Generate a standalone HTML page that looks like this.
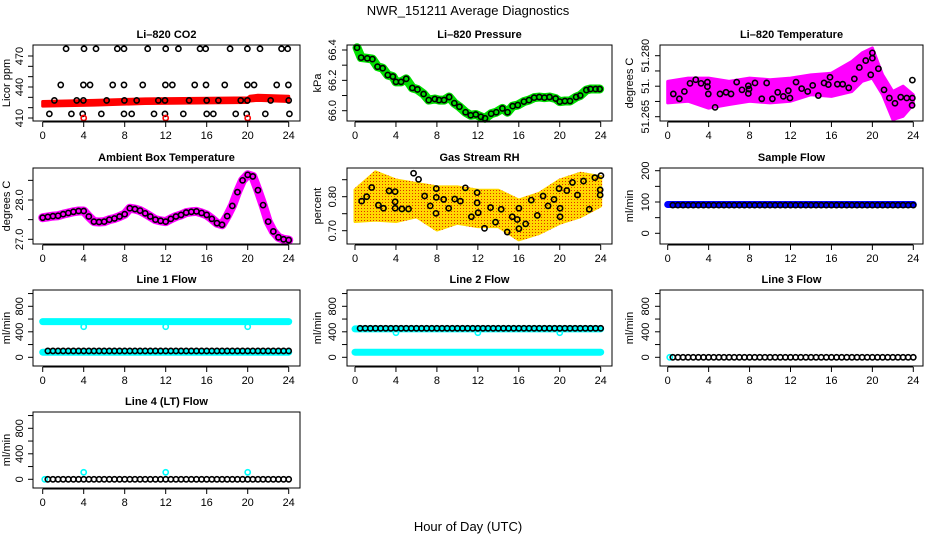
<!DOCTYPE html>
<html><head><meta charset="utf-8"><style>
html,body{margin:0;padding:0;background:#fff;}
svg{display:block;font-family:"Liberation Sans",sans-serif;}
</style></head><body>
<svg id="chart" width="936" height="540" viewBox="0 0 936 540" xmlns="http://www.w3.org/2000/svg">
<defs>
<pattern id="rhPat" width="3" height="3" patternUnits="userSpaceOnUse"><rect width="3" height="3" fill="#ffd700"/><rect x="1" y="1" width="1" height="1" fill="#e03000"/></pattern>
<pattern id="prPat" width="3" height="3" patternUnits="userSpaceOnUse"><rect width="3" height="3" fill="#00e000"/><rect x="1" y="1" width="1" height="1" fill="#003000"/></pattern>
</defs>
<text x="468" y="15" text-anchor="middle" font-size="13">NWR_151211  Average Diagnostics</text>
<text x="468" y="531" text-anchor="middle" font-size="13">Hour of Day (UTC)</text>
</svg>
<script>
// ---- data ----
const H48=[0.5,1,1.5,2,2.5,3,3.5,4,4.5,5,5.5,6,6.5,7,7.5,8,8.5,9,9.5,10,10.5,11,11.5,12,12.5,13,13.5,14,14.5,15,15.5,16,16.5,17,17.5,18,18.5,19,19.5,20,20.5,21,21.5,22,22.5,23,23.5,24];
// CO2
const co2BandH=[0,5,10,15,20,20.2,21,24];
const co2BandLo=[421.5,422.5,424,424.5,425,426.5,427,426];
const co2BandHi=[426,427,428.5,429,429.5,431,432,431];
const co2H=[2.28,4.03,5.2,7.28,7.93,10.24,12.0,13.24,15.35,15.9,18.28,19.97,21.2,23.3,23.9,
1.76,3.97,4.62,6.83,7.93,9.76,11.97,12.65,14.83,15.93,17.76,19.97,20.62,22.83,23.97,
1.14,3.32,3.97,6.24,7.97,9.17,11.28,11.93,14.28,16.0,17.14,19.32,19.97,22.24,24.0,
0.65,2.8,3.9,5.72,7.93,8.68,10.86,11.93,13.72,16.0,16.65,18.83,19.9,21.72,24.07];
const co2V=[477,477,477,477,477,477,477,477,477,477,477,477,477,477,477,
442,442,442,442,442,442,442,442,442,442,442,442,442,442,442,
427,427,427,427,427,427,427,427,427,427,427,427,427,427,427,
414,414,414,414,414,414,414,414,414,414,414,414,414,414,414];
const co2RedH=[4,12,20];
const co2RedV=[410,410,410];
// Pressure
const prH=[0.2,0.6,1.2,1.7,2.2,2.7,3.2,3.7,4,4.5,5,5.6,6.1,6.7,7.2,7.8,8.2,8.7,9.2,9.7,10.2,10.8,11.3,11.8,12.3,12.7,13.3,13.8,14.4,14.9,15.4,15.9,16.5,17,17.5,18,18.5,19,19.6,20,20.5,21,21.6,22,22.6,23,23.5,23.9];
const prV=[66.415,66.35,66.345,66.34,66.29,66.28,66.235,66.225,66.19,66.19,66.21,66.15,66.14,66.11,66.07,66.077,66.07,66.07,66.09,66.05,66.026,65.99,65.97,65.975,65.96,65.95,65.98,65.99,66.015,65.99,66.03,66.037,66.06,66.07,66.086,66.09,66.086,66.09,66.08,66.06,66.064,66.064,66.09,66.10,66.136,66.143,66.143,66.143];
// Li-820 temperature
const tmBandH=[0,2,4,6,8,10,12,14,16,18,19,20,21,22,23,24];
const tmBandHi=[51.2737,51.2745,51.2745,51.2737,51.2745,51.2741,51.2745,51.2753,51.2757,51.2786,51.2807,51.2819,51.2753,51.2712,51.2725,51.2704];
const tmBandLo=[51.2684,51.2688,51.2671,51.2680,51.2688,51.2684,51.2688,51.2704,51.2700,51.2712,51.2737,51.2745,51.2704,51.2643,51.2651,51.2680];
const tmH=[0.55,1.14,1.63,2.18,2.74,3.26,3.88,3.88,3.97,4.63,5.11,5.7,6.19,6.74,7.26,7.88,7.88,7.95,8.53,9.19,9.67,10.23,10.75,11.3,11.79,11.95,12.54,13.09,13.68,14.17,14.72,15.28,15.7,15.86,16.58,17.1,17.69,18.24,18.73,19.35,19.84,20.0,20.0,20.59,21.14,21.66,22.21,22.77,23.36,23.91,23.91,23.88];
const tmV=[51.2706,51.2694,51.2712,51.2732,51.2741,51.2732,51.2735,51.2724,51.2706,51.2673,51.2706,51.2710,51.2706,51.2735,51.2716,51.2726,51.2707,51.2718,51.2733,51.2694,51.2733,51.2694,51.2710,51.2700,51.2714,51.2696,51.2735,51.2719,51.2712,51.2727,51.2702,51.2733,51.2729,51.2747,51.2730,51.2730,51.2721,51.2743,51.2771,51.2788,51.2753,51.2794,51.2807,51.2768,51.2716,51.2696,51.2683,51.2698,51.2696,51.2696,51.2740,51.2678];
// Ambient box temperature
const ambH=[0,0.5,1,1.5,2,2.5,3,3.5,4,4.5,5,5.5,6,6.5,7,7.5,8,8.5,9,9.5,10,10.5,11,11.5,12,12.5,13,13.5,14,14.5,15,15.5,16,16.5,17,17.5,18,18.5,19,19.5,20,20.5,21,21.5,22,22.5,23,23.5,24];
const ambV=[27.55,27.57,27.59,27.60,27.64,27.67,27.70,27.72,27.72,27.58,27.45,27.44,27.45,27.50,27.53,27.58,27.64,27.79,27.77,27.73,27.66,27.58,27.50,27.47,27.45,27.52,27.58,27.62,27.68,27.70,27.71,27.67,27.62,27.52,27.41,27.37,27.59,27.85,28.2,28.5,28.64,28.6,28.25,27.87,27.45,27.2,27.05,27.0,26.98];
// Gas stream RH
const rhBandH=[0,2,4,6,8,10,12,14,16,18,20,22,24];
const rhBandHi=[0.820,0.873,0.849,0.839,0.829,0.829,0.819,0.819,0.790,0.810,0.849,0.869,0.859];
const rhBandLo=[0.727,0.731,0.727,0.741,0.702,0.722,0.712,0.712,0.673,0.692,0.722,0.741,0.773];
const rhH=[0.65,1.14,1.63,2.29,2.78,3.33,3.92,3.92,3.92,4.58,5.23,5.72,6.21,6.8,7.35,7.94,7.94,7.91,8.66,9.15,9.74,10.29,10.78,11.37,11.93,11.93,12.03,12.65,13.24,13.73,14.28,14.87,15.36,15.85,16.01,16.01,16.67,17.22,17.81,18.37,18.86,19.44,19.93,20.03,20.03,20.69,21.24,21.73,22.32,22.88,23.43,24.02,23.95,23.95];
const rhV=[0.787,0.800,0.827,0.775,0.766,0.817,0.785,0.815,0.766,0.764,0.764,0.869,0.851,0.802,0.773,0.824,0.798,0.751,0.792,0.766,0.793,0.787,0.826,0.741,0.812,0.782,0.753,0.707,0.768,0.725,0.763,0.696,0.741,0.733,0.766,0.706,0.720,0.790,0.745,0.802,0.773,0.792,0.824,0.766,0.741,0.818,0.842,0.805,0.846,0.763,0.856,0.862,0.820,0.805];
// Flows
const sampleV=[90,90,90,90,90,90,90,90,90,90,90,90,90,90,90,90,90,90,90,90,90,90,90,90,90,90,90,90,90,90,90,90,90,90,90,90,90,90,90,90,90,90,90,90,90,90,90,90];
const sampleBandH=[0,24];
const sampleBandV=[92,92];
const line1V=[100,100,100,100,100,100,100,100,100,100,100,100,100,100,100,100,100,100,100,100,100,100,100,100,100,100,100,100,100,100,100,100,100,100,100,100,100,100,100,100,100,100,100,100,100,100,100,100];
const line1CyanHi=[560,560];
const line1CyanLo=[80,80];
const line1DipH=[4,12,20];
const line1DipV=[480,480,480];
const line2V=[455,455,455,455,455,455,455,455,455,455,455,455,455,455,455,455,455,455,455,455,455,455,455,455,455,455,455,455,455,455,455,455,455,455,455,455,455,455,455,455,455,455,455,455,455,455,455,455];
const line2CyanHi=[445,445];
const line2CyanLo=[80,80];
const line2DipH=[4,12,20];
const line2DipV=[385,385,385];
const line3V=[0,0,0,0,0,0,0,0,0,0,0,0,0,0,0,0,0,0,0,0,0,0,0,0,0,0,0,0,0,0,0,0,0,0,0,0,0,0,0,0,0,0,0,0,0,0,0,0];
const line4V=[0,0,0,0,0,0,0,0,0,0,0,0,0,0,0,0,0,0,0,0,0,0,0,0,0,0,0,0,0,0,0,0,0,0,0,0,0,0,0,0,0,0,0,0,0,0,0,0];
const line4DipH=[4,12,20];
const line4DipV=[110,110,110];
const xTicks=[0,4,8,12,16,20,24];

// ---- layout ----
const NS="http://www.w3.org/2000/svg";
const svg=document.getElementById('chart');
const COLS=[{b0:33,b1:300,x0:42.7,x24:288.7,lab:10,tl:23},{b0:347,b1:612,x0:355,x24:600.7,lab:321,tl:336},{b0:660,b1:923,x0:667.7,x24:913.3,lab:633,tl:649}];
const ROWS=[45,168,290,412];
const BH=76;
function el(tag,attrs,parent){const e=document.createElementNS(NS,tag);for(const k in attrs)e.setAttribute(k,attrs[k]);(parent||svg).appendChild(e);return e;}

function panel(name,col,row,title,ylab,v0,p0,v1,p1,ticks,labels){
  const c=COLS[col],top=ROWS[row];
  const g=el('g',{});
  
  
  const xs=h=>c.x0+(h/24)*(c.x24-c.x0);
  const ys=v=>top+p0+(v-v0)/(v1-v0)*(p1-p0);
  const t=el('text',{x:(c.b0+c.b1)/2,y:top-7,'text-anchor':'middle','font-size':11,'font-weight':'bold'},g);
  t.textContent=title;
  
  
  const yl=el('text',{x:c.lab,y:top+BH/2,'text-anchor':'middle','font-size':11,transform:`rotate(-90 ${c.lab} ${top+BH/2})`},g);
  yl.textContent=ylab;
  
  
  const plot=el('g',{},g);
  
  
  // y axis
  const ya=el('g',{stroke:'#000','stroke-width':1},g);
  
  
  ticks.forEach((v,i)=>{const y=ys(v);el('line',{x1:c.b0-5,x2:c.b0,y1:y,y2:y},ya);
    if(labels[i]){const tx=el('text',{x:c.tl,y:y,'text-anchor':'middle','font-size':11,stroke:'none',transform:`rotate(-90 ${c.tl} ${y})`},g);tx.textContent=labels[i];
      
      }});
  // x axis
  const xa=el('g',{stroke:'#000','stroke-width':1},g);
  
  
  const yb=top+BH;
  el('line',{x1:xs(0),x2:xs(24),y1:yb+1,y2:yb+1},xa);
  xTicks.forEach(h=>{el('line',{x1:xs(h),x2:xs(h),y1:yb+1,y2:yb+6},xa);
    const tx=el('text',{x:xs(h),y:yb+18,'text-anchor':'middle','font-size':11},g);tx.textContent=h;
    
    });
  el('rect',{x:c.b0,y:top,width:c.b1-c.b0,height:BH,fill:'none',stroke:'#000','stroke-width':1},g);
  return {plot,xs,ys,top,c};
}
function band(P,name,hs,lo,hi,fill){
  let d='M'+hs.map((h,i)=>P.xs(h)+','+P.ys(hi[i])).join(' L');
  d+=' L'+hs.map((h,i)=>P.xs(h)+','+P.ys(lo[i])).reverse().join(' L')+' Z';
  const p=el('path',{d:d,fill:fill,stroke:fill,'stroke-width':3,'stroke-linejoin':'round'},P.plot);
  
  
}
function thick(P,name,hs,vs,color,w){
  const p=el('polyline',{points:hs.map((h,i)=>P.xs(h)+','+P.ys(vs[i])).join(' '),fill:'none',stroke:color,'stroke-width':w,'stroke-linecap':'round','stroke-linejoin':'round'},P.plot);
  
  
}
function pts(P,name,hs,vs,color){
  hs.forEach((h,i)=>{const c=el('circle',{cx:P.xs(h),cy:P.ys(vs[i]),r:2.6,fill:'none',stroke:color,'stroke-width':1.6},P.plot);
    
    });
}

// CO2
let P=panel('co2',0,0,'Li\u2013820 CO2','Licor ppm',410,73,470,11,[410,420,430,440,450,460,470],['410','','','440','','','470']);
band(P,'co2-red-band',co2BandH,co2BandLo,co2BandHi,'#ff0000');
pts(P,'co2-point',co2H,co2V,'#000');
pts(P,'co2-red-point',co2RedH,co2RedV,'#ff0000');
// Pressure
P=panel('pressure',1,0,'Li\u2013820 Pressure','kPa',66.0,65.7,66.4,5,[66.0,66.1,66.2,66.3,66.4],['66.0','','66.2','','66.4']);
thick(P,'pressure-green-band',prH,prV,'#00e000',9);
pts(P,'pressure-point',prH,prV,'#000');
// Temperature
P=panel('li820-temperature',2,0,'Li\u2013820 Temperature','degrees C',51.265,71.7,51.28,10.7,[51.265,51.26875,51.2725,51.27625,51.28],['51.265','','51.','','51.280']);
band(P,'temperature-magenta-band',tmBandH,tmBandLo,tmBandHi,'#ff00ff');
pts(P,'temperature-point',tmH,tmV,'#000');
// Ambient
P=panel('ambient-temperature',0,1,'Ambient Box Temperature','degrees C',27.0,71.3,28.0,32,[27.0,27.5,28.0,28.5],['27.0','','28.0','']);
thick(P,'ambient-magenta-band',ambH,ambV,'#ff00ff',9);
pts(P,'ambient-point',ambH,ambV,'#000');
// RH
P=panel('gas-stream-rh',1,1,'Gas Stream RH','percent',0.70,62.7,0.80,28.7,[0.70,0.75,0.80,0.85],['0.70','','0.80','']);
band(P,'rh-orange-band',rhBandH,rhBandLo,rhBandHi,'url(#rhPat)');
pts(P,'rh-point',rhH,rhV,'#000');
// Sample flow
P=panel('sample-flow',2,1,'Sample Flow','ml/min',0,65.3,200,2.7,[0,50,100,150,200],['0','','100','','200']);
thick(P,'sample-flow-blue-band',sampleBandH,sampleBandV,'#0000ff',7);
pts(P,'sample-flow-point',H48,sampleV,'#000');
// Line 1
P=panel('line1-flow',0,2,'Line 1 Flow','ml/min',0,67.3,800,16.3,[0,200,400,600,800,1000],['0','','400','','800','']);
thick(P,'line1-cyan-high',sampleBandH,line1CyanHi,'#00ffff',7);
thick(P,'line1-cyan-low',sampleBandH,line1CyanLo,'#00ffff',7);
pts(P,'line1-cyan-dip',line1DipH,line1DipV,'#00ffff');
pts(P,'line1-point',H48,line1V,'#000');
// Line 2
P=panel('line2-flow',1,2,'Line 2 Flow','ml/min',0,67.3,800,16.3,[0,200,400,600,800,1000],['0','','400','','800','']);
thick(P,'line2-cyan-high',sampleBandH,line2CyanHi,'#00ffff',7);
thick(P,'line2-cyan-low',sampleBandH,line2CyanLo,'#00ffff',7);
pts(P,'line2-cyan-dip',line2DipH,line2DipV,'#00ffff');
pts(P,'line2-point',H48,line2V,'#000');
// Line 3
P=panel('line3-flow',2,2,'Line 3 Flow','ml/min',0,67.3,800,16.3,[0,200,400,600,800,1000],['0','','400','','800','']);
pts(P,'line3-cyan-point',[0.2],[0],'#00ffff');
pts(P,'line3-point',H48,line3V,'#000');
// Line 4
P=panel('line4-flow',0,3,'Line 4 (LT) Flow','ml/min',0,67.3,800,16.3,[0,200,400,600,800,1000],['0','','400','','800','']);
pts(P,'line4-cyan-point',[0.2],[0],'#00ffff');
pts(P,'line4-cyan-dip',line4DipH,line4DipV,'#00ffff');
pts(P,'line4-point',H48,line4V,'#000');
</script>
</body></html>
